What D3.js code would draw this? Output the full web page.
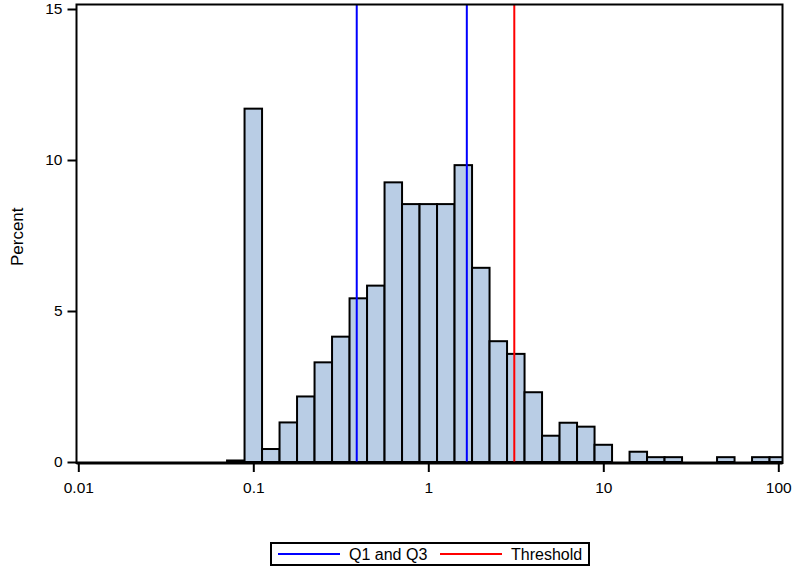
<!DOCTYPE html>
<html>
<head>
<meta charset="utf-8">
<script src="https://cdn.jsdelivr.net/npm/d3@7"></script>
<style>
  body { margin: 0; background: #fff; }
  text { font-family: Arial, "Liberation Sans", sans-serif; fill: #000; }
</style>
</head>
<body>
<script>
// ** Histogram bins (log10 centres, width 0.1) and percent heights
var binCentres = [-1.1, -1.0, -0.9, -0.8, -0.7, -0.6, -0.5, -0.4, -0.3, -0.2, -0.1,
                  0.0, 0.1, 0.2, 0.3, 0.4, 0.5, 0.6, 0.7, 0.8, 0.9, 1.0,
                  1.1, 1.2, 1.3, 1.4, 1.5, 1.6, 1.7, 1.8, 1.9, 2.0];
var percents = [0.05, 11.7, 0.43, 1.31, 2.17, 3.30, 4.15, 5.42, 5.84, 9.26, 8.54,
                8.54, 8.54, 9.83, 6.43, 4.0, 3.58, 2.31, 0.87, 1.30, 1.17, 0.57,
                0, 0.34, 0.16, 0.16, 0, 0, 0.16, 0, 0.16, 0.16];
var binWidth = 0.1;

// ** Reference lines
var quartiles = [0.39, 1.66];
var threshold = [3.1];

// ** Axis ticks
var xTicks = [0.01, 0.1, 1, 10, 100];
var xTickLabels = ['0.01', '0.1', '1', '10', '100'];
var yTicks = [0, 5, 10, 15];

var legendItems = [
  {label: 'Q1 and Q3', color: '#0000ff'},
  {label: 'Threshold', color: '#ff0000'}
];

var W = 800, H = 571;
var frame = {left: 76.5, right: 782.5, top: 4.5, bottom: 463};

var svg = d3.select('body').append('svg')
    .attr('width', W)
    .attr('height', H);

var x = d3.scaleLog().domain([0.01, 100]).range([78.3, 778.3]);
var y = d3.scaleLinear().domain([0, 15]).range([462, 9]);

svg.append('defs').append('clipPath').attr('id', 'plotclip')
  .append('rect')
    .attr('x', frame.left)
    .attr('y', frame.top)
    .attr('width', frame.right - frame.left)
    .attr('height', frame.bottom - frame.top);

var plot = svg.append('g').attr('clip-path', 'url(#plotclip)');

// ** Bars
var bins = binCentres.map(function(c, i){
  return {lo: Math.pow(10, c - binWidth / 2), hi: Math.pow(10, c + binWidth / 2), v: percents[i]};
}).filter(function(d){ return d.v > 0; });

plot.selectAll('rect.bar')
    .data(bins)
  .enter().append('rect')
    .attr('class', 'bar')
    .attr('x', function(d){ return x(d.lo); })
    .attr('width', function(d){ return x(d.hi) - x(d.lo); })
    .attr('y', function(d){ return y(d.v); })
    .attr('height', function(d){ return y(0) - y(d.v); })
    .attr('fill', '#b9cde5')
    .attr('stroke', '#000')
    .attr('stroke-width', 2);

// ** Reference lines
var refs = quartiles.map(function(v){ return {v: v, color: legendItems[0].color}; })
  .concat(threshold.map(function(v){ return {v: v, color: legendItems[1].color}; }));

plot.selectAll('line.ref')
    .data(refs)
  .enter().append('line')
    .attr('class', 'ref')
    .attr('x1', function(d){ return x(d.v); })
    .attr('x2', function(d){ return x(d.v); })
    .attr('y1', frame.top)
    .attr('y2', frame.bottom)
    .attr('stroke', function(d){ return d.color; })
    .attr('stroke-width', 2);

// ** Frame
svg.append('rect')
    .attr('x', frame.left)
    .attr('y', frame.top)
    .attr('width', frame.right - frame.left)
    .attr('height', frame.bottom - frame.top)
    .attr('fill', 'none')
    .attr('stroke', '#000')
    .attr('stroke-width', 2);
svg.append('line')
    .attr('x1', frame.left).attr('x2', frame.right)
    .attr('y1', frame.bottom).attr('y2', frame.bottom)
    .attr('stroke', '#000').attr('stroke-width', 3);

// ** Axes
var xAxis = d3.axisBottom(x).tickValues(xTicks)
    .tickFormat(function(d, i){ return xTickLabels[i]; })
    .tickSize(9).tickPadding(10);
var gx = svg.append('g')
    .attr('transform', 'translate(0,' + frame.bottom + ')')
    .call(xAxis);
gx.select('.domain').remove();
gx.selectAll('line').attr('stroke', '#000').attr('stroke-width', 2);
gx.selectAll('text').style('font-size', '15.5px');

var yAxis = d3.axisLeft(y).tickValues(yTicks).tickSize(9).tickPadding(5);
var gy = svg.append('g')
    .attr('transform', 'translate(' + frame.left + ',0)')
    .call(yAxis);
gy.select('.domain').remove();
gy.selectAll('line').attr('stroke', '#000').attr('stroke-width', 2);
gy.selectAll('text').style('font-size', '15.5px');

svg.append('text')
    .attr('transform', 'translate(23,' + ((frame.top + frame.bottom) / 2 + 3) + ') rotate(-90)')
    .attr('text-anchor', 'middle')
    .style('font-size', '17px')
    .text('Percent');

// ** Legend
var legend = svg.append('g');
legend.append('rect')
    .attr('x', 271).attr('y', 543)
    .attr('width', 318).attr('height', 22)
    .attr('fill', '#fff')
    .attr('stroke', '#000')
    .attr('stroke-width', 2);
var li = legend.selectAll('g.item')
    .data(legendItems)
  .enter().append('g')
    .attr('class', 'item')
    .attr('transform', function(d, i){ return 'translate(' + (278 + i * 162) + ',554)'; });
li.append('line')
    .attr('x1', 0).attr('x2', 62)
    .attr('stroke', function(d){ return d.color; })
    .attr('stroke-width', 2);
li.append('text')
    .attr('x', 71).attr('dy', '0.36em')
    .style('font-size', '16px')
    .text(function(d){ return d.label; });
</script>
</body>
</html>
